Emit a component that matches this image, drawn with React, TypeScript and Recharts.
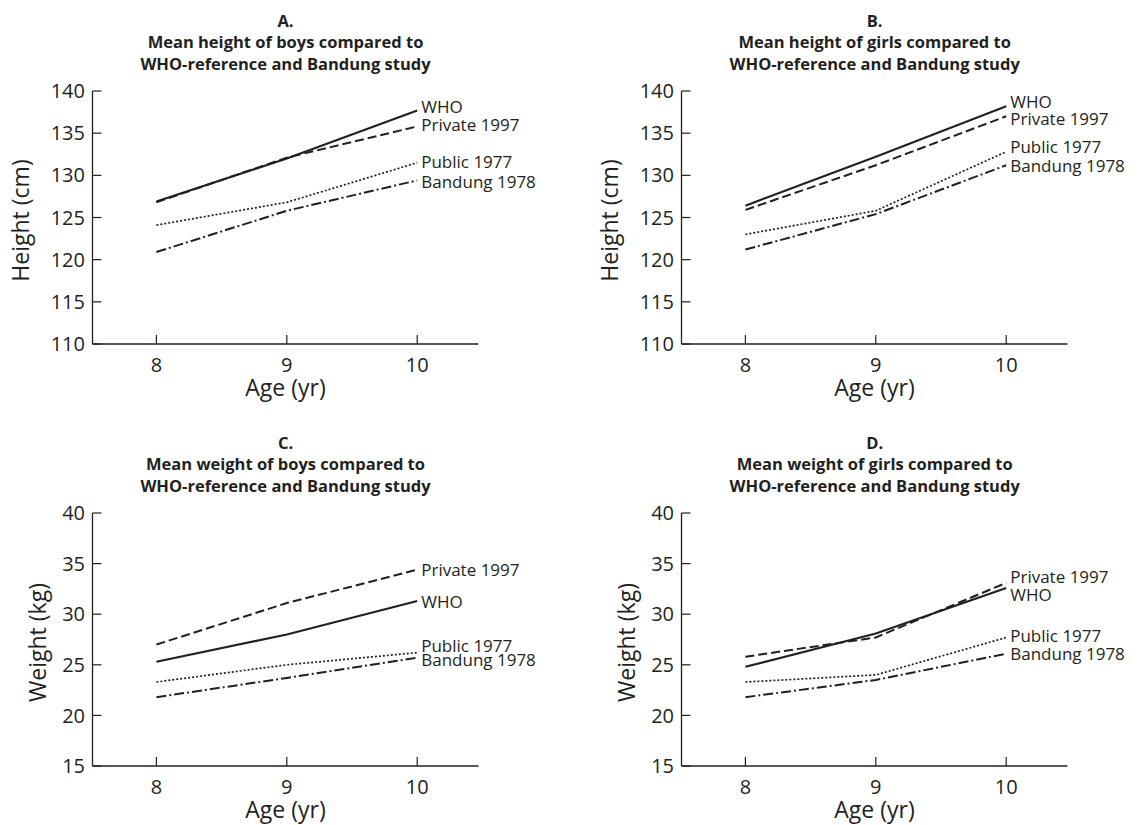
import React from 'react';
import { LineChart, Line, XAxis, YAxis, LabelList } from 'recharts';

// shared axes
const ages = [8, 9, 10];
const ageTicks = [8, 9, 10];
const heightTicks = [110, 115, 120, 125, 130, 135, 140];
const weightTicks = [15, 20, 25, 30, 35, 40];
const seriesNames = ['WHO', 'Private 1997', 'Public 1977', 'Bandung 1978'];

// A. boys height (cm)
const boysHeightWHO = [126.9, 132.0, 137.7];
const boysHeightPrivate = [126.8, 132.1, 135.8];
const boysHeightPublic = [124.1, 126.8, 131.5];
const boysHeightBandung = [120.9, 125.8, 129.4];

// B. girls height (cm)
const girlsHeightWHO = [126.4, 132.2, 138.2];
const girlsHeightPrivate = [125.9, 131.2, 137.0];
const girlsHeightPublic = [123.0, 125.8, 132.8];
const girlsHeightBandung = [121.2, 125.4, 131.2];

// C. boys weight (kg)
const boysWeightWHO = [25.3, 28.0, 31.3];
const boysWeightPrivate = [27.0, 31.1, 34.4];
const boysWeightPublic = [23.3, 25.0, 26.2];
const boysWeightBandung = [21.8, 23.7, 25.7];

// D. girls weight (kg)
const girlsWeightWHO = [24.8, 28.1, 32.6];
const girlsWeightPrivate = [25.8, 27.7, 33.1];
const girlsWeightPublic = [23.3, 24.0, 27.7];
const girlsWeightBandung = [21.8, 23.5, 26.1];

const FONT = '"Open Sans", sans-serif';
const INK = '#231f20';

const CHART_W = 552;
const CHART_H = 410;
const Y_AXIS_W = 92.5;
const PLOT_TOP = 91;
const MARGIN_RIGHT = 73.5;
const PLOT_CX = Y_AXIS_W + (CHART_W - Y_AXIS_W - MARGIN_RIGHT) / 2;

const seriesKeys = ['who', 'private', 'public', 'bandung'];
const lineStyles = [
  { dash: undefined, width: 2.1 },
  { dash: '9 4', width: 2 },
  { dash: '2 2', width: 1.7 },
  { dash: '10 3 2 3', width: 2 },
];

function buildRows(who: number[], priv: number[], pub: number[], band: number[]) {
  return ages.map((age, i) => ({ age, who: who[i], private: priv[i], public: pub[i], bandung: band[i] }));
}

const panels = [
  {
    letter: 'A.',
    title: ['Mean height of boys compared to', 'WHO-reference and Bandung study'],
    left: 0, top: 0,
    rows: buildRows(boysHeightWHO, boysHeightPrivate, boysHeightPublic, boysHeightBandung),
    yTicks: heightTicks, yLabel: 'Height (cm)', yLabelGap: 64,
    labelDy: [-4, -2, -1, 1],
  },
  {
    letter: 'B.',
    title: ['Mean height of girls compared to', 'WHO-reference and Bandung study'],
    left: 589.2, top: 0,
    rows: buildRows(girlsHeightWHO, girlsHeightPrivate, girlsHeightPublic, girlsHeightBandung),
    yTicks: heightTicks, yLabel: 'Height (cm)', yLabelGap: 64,
    labelDy: [-5, 2, -5, 0],
  },
  {
    letter: 'C.',
    title: ['Mean weight of boys compared to', 'WHO-reference and Bandung study'],
    left: 0, top: 422,
    rows: buildRows(boysWeightWHO, boysWeightPrivate, boysWeightPublic, boysWeightBandung),
    yTicks: weightTicks, yLabel: 'Weight (kg)', yLabelGap: 47,
    labelDy: [0, 0, -7, 2],
  },
  {
    letter: 'D.',
    title: ['Mean weight of girls compared to', 'WHO-reference and Bandung study'],
    left: 589.2, top: 422,
    rows: buildRows(girlsWeightWHO, girlsWeightPrivate, girlsWeightPublic, girlsWeightBandung),
    yTicks: weightTicks, yLabel: 'Weight (kg)', yLabelGap: 47,
    labelDy: [7, -6, -2, 0],
  },
];

function XTitle(props: any) {
  const vb = props.viewBox || { x: Y_AXIS_W, y: 344, width: 386.5, height: 60 };
  return (
    <text x={vb.x + vb.width / 2} y={vb.y + 52} textAnchor="middle" fill={INK} fontSize={23} fontFamily={FONT}>
      Age (yr)
    </text>
  );
}

function YTitle(props: any) {
  const vb = props.viewBox || { x: 0, y: PLOT_TOP, width: Y_AXIS_W, height: 253 };
  const cx = vb.x + vb.width - props.gap;
  const cy = vb.y + vb.height / 2 + 3;
  return (
    <text x={cx} y={cy} transform={`rotate(-90, ${cx}, ${cy})`} textAnchor="middle" fill={INK} fontSize={23} fontFamily={FONT}>
      {props.text}
    </text>
  );
}

const endLabel = (name: string, dy: number) => (props: any) => {
  if (props.index !== ages.length - 1) return null;
  const x = props.x ?? props.viewBox?.x;
  const y = props.y ?? props.viewBox?.y;
  return (
    <text x={x + 4} y={y + dy} dominantBaseline="central" fill={INK} fontSize={17} fontFamily={FONT}>
      {name}
    </text>
  );
};

function Panel({ p }: { p: (typeof panels)[number] }) {
  return (
    <div style={{ position: 'absolute', left: p.left, top: p.top, width: CHART_W, height: CHART_H }}>
      <div
        style={{
          position: 'absolute', left: PLOT_CX - 220, width: 440, top: 9.6,
          textAlign: 'center', fontFamily: FONT, fontWeight: 700, fontSize: 16.5,
          lineHeight: '21.6px', color: INK,
        }}
      >
        <div>{p.letter}</div>
        <div>{p.title[0]}</div>
        <div>{p.title[1]}</div>
      </div>
      <LineChart width={CHART_W} height={CHART_H} data={p.rows} margin={{ top: PLOT_TOP, right: MARGIN_RIGHT, bottom: 6, left: 0 }}>
        <XAxis
          dataKey="age"
          type="number"
          domain={[7.51, 10.47]}
          ticks={ageTicks}
          height={60}
          tickSize={-9}
          tickMargin={22.3}
          axisLine={{ stroke: INK, strokeWidth: 1.3 }}
          tickLine={{ stroke: INK, strokeWidth: 1.2 }}
          tick={{ fontSize: 20, fill: INK, fontFamily: FONT }}
          label={<XTitle />}
        />
        <YAxis
          type="number"
          domain={[p.yTicks[0], p.yTicks[p.yTicks.length - 1]]}
          ticks={p.yTicks}
          width={Y_AXIS_W}
          tickSize={-9}
          tickMargin={16.5}
          axisLine={{ stroke: INK, strokeWidth: 1.3 }}
          tickLine={{ stroke: INK, strokeWidth: 1.2 }}
          tick={{ fontSize: 20, fill: INK, fontFamily: FONT }}
          label={<YTitle text={p.yLabel} gap={p.yLabelGap} />}
        />
        {seriesKeys.map((key, i) => (
          <Line
            key={key}
            type="linear"
            dataKey={key}
            stroke={INK}
            strokeWidth={lineStyles[i].width}
            strokeDasharray={lineStyles[i].dash}
            dot={false}
            activeDot={false}
            isAnimationActive={false}
          >
            <LabelList dataKey={key} content={endLabel(seriesNames[i], p.labelDy[i])} />
          </Line>
        ))}
      </LineChart>
    </div>
  );
}

export default function App() {
  return (
    <div style={{ position: 'absolute', left: 0, top: 0, width: 1141, height: 825, overflow: 'hidden', background: '#fff' }}>
      {panels.map((p) => (
        <Panel key={p.letter} p={p} />
      ))}
    </div>
  );
}
